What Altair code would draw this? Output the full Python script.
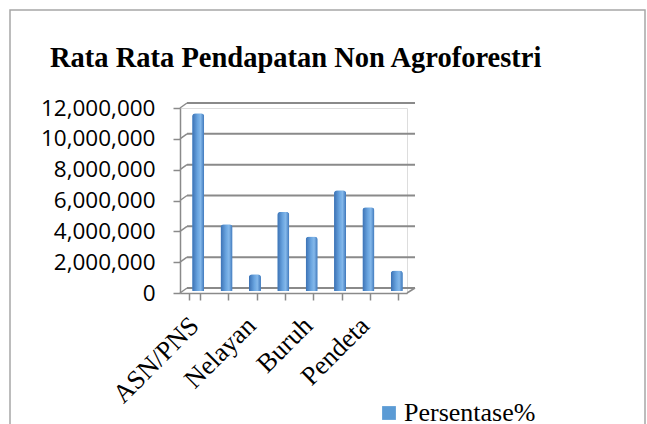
import altair as alt
import pandas as pd

# ---- data ----
categories = ["ASN/PNS", "Pedagang", "Nelayan", "Wiraswasta", "Buruh", "Tukang", "Pendeta", "Lainnya"]
values = [11650000, 4450000, 1200000, 5250000, 3650000, 6650000, 5550000, 1450000]
series_name = "Persentase%"
shown_labels = ["ASN/PNS", "Nelayan", "Buruh", "Pendeta"]
y_ticks = [0, 2000000, 4000000, 6000000, 8000000, 10000000, 12000000]
title_text = "Rata Rata Pendapatan Non Agroforestri"

df = pd.DataFrame({"cat": categories, "val": values, "series": [series_name] * len(categories)})
grid_df = pd.DataFrame({"v": y_ticks})
floor_df = pd.DataFrame({"v": [0]})
frame_df = pd.DataFrame({"a": [0]})

W, H = 227, 185
GRAY = "#8a8a8a"

label_expr = "indexof(" + str(shown_labels).replace('"', "'") + ", datum.value) >= 0 ? datum.label : ''"

x_enc = alt.X("cat:N", sort=categories, title=None,
              scale=alt.Scale(paddingInner=0.6, paddingOuter=0.3),
              axis=alt.Axis(labelAngle=-45, labelFont="Liberation Serif", labelFontSize=26.5,
                            labelColor="black", labelExpr=label_expr, tickBand="extent",
                            domainColor=GRAY, domainWidth=1.5, tickColor=GRAY, tickWidth=1.5,
                            tickSize=7, labelPadding=12, labelOffset=-9, labelOverlap=False,
                            labelLimit=300))
y_scale = alt.Scale(domain=[0, 12000000])
y_axis = alt.Axis(values=y_ticks, format=",d", labelFont="Open Sans", labelFontSize=22.5,
                  labelColor="black", domainColor=GRAY, domainWidth=1.5, tickColor=GRAY,
                  tickWidth=1.5, tickSize=7, labelPadding=18, grid=False, title=None,
                  labelOverlap=False)

frame = alt.Chart(frame_df).mark_rect(fillOpacity=0, stroke="#a6a6a6", strokeWidth=1.5).encode(
    x=alt.value(-170), x2=alt.value(465), y=alt.value(-98), y2=alt.value(340))

title = alt.Chart(frame_df).mark_text(text=title_text, font="Liberation Serif", fontSize=28.5,
                                       fontWeight="bold", color="black", align="left",
                                       baseline="alphabetic").encode(
    x=alt.value(-130), y=alt.value(-41))

back_grid = alt.Chart(grid_df).mark_rule(color=GRAY, strokeWidth=2, yOffset=-5).encode(
    y=alt.Y("v:Q", scale=y_scale, axis=y_axis),
    x=alt.value(7), x2=alt.value(W + 8))

connectors = alt.Chart(grid_df).mark_rule(color=GRAY, strokeWidth=1.5, y2Offset=-5).encode(
    y=alt.Y("v:Q", scale=y_scale, axis=y_axis), y2="v:Q",
    x=alt.value(0), x2=alt.value(7))

floor_right = alt.Chart(floor_df).mark_rule(color=GRAY, strokeWidth=1.5, y2Offset=-5).encode(
    y=alt.Y("v:Q", scale=y_scale, axis=y_axis), y2="v:Q",
    x=alt.value(W), x2=alt.value(W + 8))

bars_solid = alt.Chart(df).mark_bar(size=12, xOffset=4, yOffset=-2, y2Offset=-2, cornerRadius=3).encode(
    x=x_enc,
    y=alt.Y("val:Q", scale=y_scale, axis=y_axis),
    color=alt.Color("series:N", scale=alt.Scale(range=["#5b9bd5"]),
                    legend=alt.Legend(title=None, orient="none", legendX=196, legendY=292,
                                      symbolType="square", symbolSize=190, symbolStrokeWidth=0,
                                      labelFont="Liberation Serif", labelFontSize=26,
                                      labelColor="black", labelOffset=2, padding=0,
                                      labelLimit=400, symbolOpacity=1)))

grad = alt.LinearGradient(gradient="linear", x1=0, x2=1, y1=0, y2=0, stops=[
    alt.GradientStop(offset=0, color="#3a70b3"),
    alt.GradientStop(offset=0.45, color="#6aa5e0"),
    alt.GradientStop(offset=0.7, color="#84b8ea"),
    alt.GradientStop(offset=1, color="#3d76ba"),
])
bars_grad = alt.Chart(df).mark_bar(size=12, xOffset=4, yOffset=-2, y2Offset=-2, cornerRadius=3,
                                   color=grad).encode(
    x=x_enc,
    y=alt.Y("val:Q", scale=y_scale, axis=y_axis))

chart = alt.layer(frame, title, back_grid, connectors, floor_right, bars_solid, bars_grad).properties(
    width=W, height=H,
    autosize=alt.AutoSizeParams(type="none"),
    padding={"left": 180, "top": 108, "right": 240, "bottom": 131},
).configure_view(stroke=None).configure_axisY(labelOverlap=False).configure(background="white")

chart.save("out.html", embed_options={"renderer": "svg", "actions": False})
